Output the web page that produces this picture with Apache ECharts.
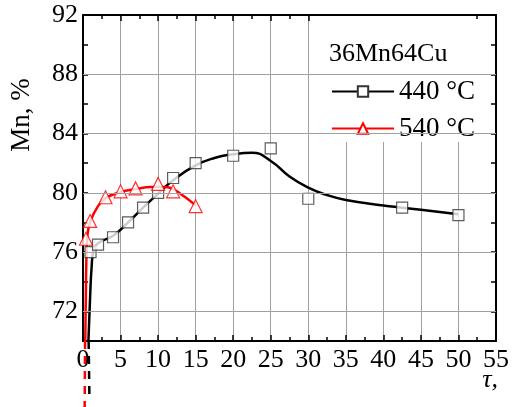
<!DOCTYPE html>
<html>
<head>
<meta charset="utf-8">
<script src="https://cdn.jsdelivr.net/npm/echarts@6/dist/echarts.min.js"></script>
<style>html,body{margin:0;padding:0;background:#fff}#c{width:518px;height:407px}</style>
</head>
<body>
<div id="c"></div>
<script>
// ---- data ----
const xTickLabels = [0,5,10,15,20,25,30,35,40,45,50,55];
const yTickLabels = [72,76,80,84,88,92];
const legendTitle = '36Mn64Cu';
const seriesNames = ['440 °C','540 °C'];
// measured points
const pts440 = [[1,76],[2,76.5],[4,77],[6,78],[8,79],[10,80],[12,81],[15,82],[20,82.5],[25,83],[30,79.6],[42.5,79],[50,78.5]];
const pts540 = [[0.4,76.9],[0.95,78.1],[3,79.7],[5,80.1],[7,80.3],[10,80.6],[12,80.1],[15,79.1]];
// fitted curves (traced)
const fit440 = [[0.72,70],[0.95,73],[1.15,75],[1.4,76.1],[2,76.6],[4,77.1],[6,78],[8,79],[10,79.95],[12,80.85],[15,81.85],[17.5,82.35],[20,82.6],[22.5,82.7],[25,82.15],[27.5,81.1],[30,80.35],[32.5,79.85],[35,79.52],[40,79.15],[42.5,79.0],[45,78.85],[50,78.55]];
const fit540 = [[0.3,70],[0.38,73],[0.45,75.5],[0.6,77.2],[1,78.1],[2,79.1],[3,79.65],[5,80.05],[7,80.25],[9,80.4],[11,80.4],[12,80.25],[13.5,79.75],[15,79.15]];
// dashed extrapolation below the axis
const ext440 = [[0.75,70],[0.85,66.3]];
const ext540 = [[0.28,70],[0.22,65.3]];

const FONT = "Liberation Serif";
const chart = echarts.init(document.getElementById('c'), null, {renderer:'canvas'});
const xMin = xTickLabels[0], xMax = xTickLabels[xTickLabels.length-1];
const yMin = 70, yMax = yTickLabels[yTickLabels.length-1];

const axisLine = {show:true, onZero:false, lineStyle:{color:'#000', width:2}};
const option = {
  animation:false,
  backgroundColor:'#fff',
  grid:{left:83, right:22, top:15, bottom:66, containLabel:false},
  xAxis:[{
    type:'value', min:xMin, max:xMax, interval:5,
    name:'τ,', nameLocation:'end', nameGap:2, nameMoveOverlap:false,
    nameTextStyle:{fontFamily:FONT, fontSize:26, fontStyle:'italic', color:'#000', align:'right', verticalAlign:'top', padding:[26,0,0,0]},
    axisLine:axisLine,
    axisTick:{show:true, inside:true, length:6, lineStyle:{color:'#000', width:1.5}},
    minorTick:{show:true, splitNumber:2, length:4, lineStyle:{color:'#000', width:1.5}},
    axisLabel:{fontFamily:FONT, fontSize:26, color:'#000', margin:6},
    splitLine:{show:true, lineStyle:{color:'#a0a0a0', width:1}}
  },{
    type:'value', position:'top', min:xMin, max:xMax, interval:5,
    axisLine:axisLine,
    axisTick:{show:true, inside:true, length:6, lineStyle:{color:'#000', width:1.5}},
    minorTick:{show:true, splitNumber:2, length:4, lineStyle:{color:'#000', width:1.5}},
    axisLabel:{show:false}, splitLine:{show:false}
  }],
  yAxis:[{
    type:'value', min:yMin, max:yMax, interval:2,
    name:'Mn, %', nameLocation:'middle', nameGap:48,
    nameTextStyle:{fontFamily:FONT, fontSize:27, color:'#000', padding:[0,0,0,126]},
    axisLine:axisLine,
    axisTick:{show:true, inside:true, length:5, lineStyle:{color:'#000', width:1.5}},
    axisLabel:{fontFamily:FONT, fontSize:26, color:'#000', margin:5,
      formatter:function(v){ return yTickLabels.indexOf(v) >= 0 ? String(v) : ''; }},
    splitLine:{show:false}
  },{
    type:'value', position:'right', min:yMin, max:yMax, interval:2,
    axisLine:axisLine,
    axisTick:{show:true, inside:true, length:5, lineStyle:{color:'#000', width:1.5}},
    axisLabel:{show:false}, splitLine:{show:false}
  }],
  legend:{
    data:seriesNames, orient:'vertical', left:326, top:73,
    itemWidth:62, itemHeight:13, itemGap:10, selectedMode:false,
    textStyle:{fontFamily:FONT, fontSize:27, color:'#000', lineHeight:26},
    z:5
  },
  graphic:[
    {type:'rect', left:322, top:16, shape:{width:151, height:126}, style:{fill:'#fff'}, z:4, silent:true},
    {type:'text', left:329, top:41, style:{text:legendTitle, fontFamily:FONT, fontSize:26, fill:'#000'}, z:5, silent:true}
  ],
  series:[
    {
      type:'line', name:seriesNames[0], data:fit440, smooth:0.5, showSymbol:false, symbol:'rect', symbolSize:11,
      lineStyle:{color:'#000', width:2.5}, itemStyle:{color:'#fff', borderColor:'#333', borderWidth:1.2},
      markLine:{silent:true, symbol:'none', label:{show:false}, lineStyle:{color:'#a0a0a0', width:1, type:'solid'},
        data: yTickLabels.filter(v => v < yMax).map(v => ({yAxis:v}))},
      z:2
    },
    {
      type:'line', name:'ext440', data:ext440, clip:false, showSymbol:false, symbol:'none',
      lineStyle:{color:'#000', width:2.5, type:[8,7]}, z:6
    },
    {
      type:'line', name:seriesNames[1], data:fit540, smooth:0.4, showSymbol:false, symbol:'triangle', symbolSize:13,
      lineStyle:{color:'#f00', width:2.5}, itemStyle:{color:'#fff', borderColor:'#f00', borderWidth:1.2}, z:2
    },
    {
      type:'line', name:'ext540', data:ext540, clip:false, showSymbol:false, symbol:'none',
      lineStyle:{color:'#f00', width:2.5, type:[8,7]}, z:6
    },
    {
      type:'scatter', name:seriesNames[0], data:pts440, symbol:'rect', symbolSize:11,
      itemStyle:{color:'#fff', borderColor:'#333', borderWidth:1.2}, z:3
    },
    {
      type:'scatter', name:seriesNames[1], data:pts540, symbol:'triangle', symbolSize:13,
      itemStyle:{color:'#fff', borderColor:'#f00', borderWidth:1.2}, z:3
    }
  ]
};
chart.setOption(option);
</script>
</body>
</html>
